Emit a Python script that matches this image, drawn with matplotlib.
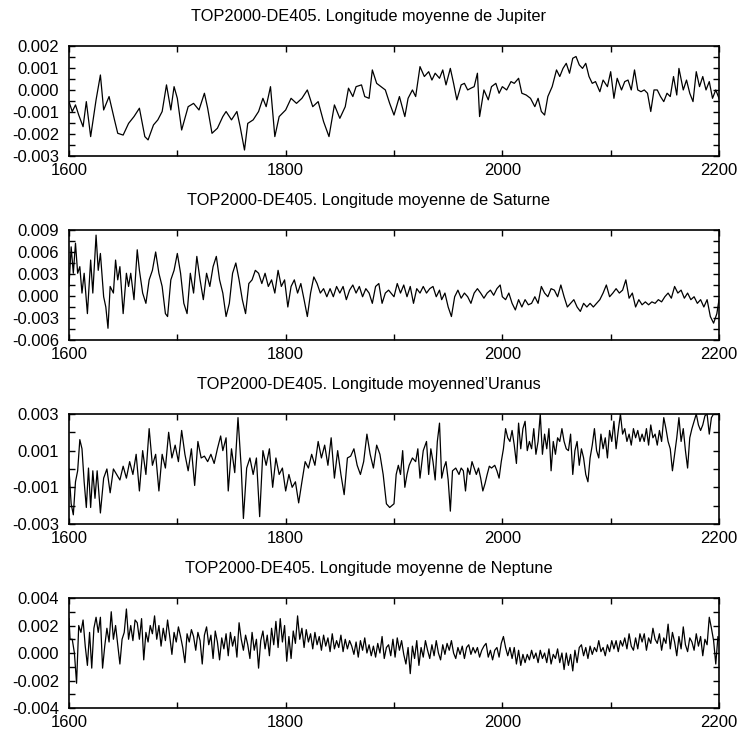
import matplotlib
matplotlib.use('Agg')
import matplotlib.pyplot as plt
from matplotlib.ticker import FixedLocator, MultipleLocator, FormatStrFormatter
import numpy as np

plt.rcParams['font.family'] = ['Liberation Sans', 'DejaVu Sans']
plt.rcParams['axes.unicode_minus'] = False

# values, (year, value in units of 1e-3)
jupiter = [
    (1600, -0.53), (1603, -0.98), (1606, -0.68), (1609, -1.14), (1613, -1.67), (1616, -0.53), (1620, -2.12), (1625, -0.45),
    (1629, 0.68), (1632, -0.91), (1637, -0.30), (1642, -1.36), (1645, -1.97), (1650, -2.05), (1655, -1.52), (1660, -1.21),
    (1665, -0.83), (1670, -2.12), (1673, -2.27), (1678, -1.59), (1682, -1.36), (1686, -0.98), (1690, 0.23), (1694, -0.91),
    (1697, 0.15), (1700, -0.38), (1704, -1.82), (1710, -0.76), (1715, -0.61), (1720, -0.91), (1725, -0.15), (1728, -0.83),
    (1732, -1.97), (1737, -1.74), (1742, -1.21), (1745, -0.98), (1750, -1.36), (1755, -0.98), (1758, -1.67), (1762, -2.73),
    (1765, -1.52), (1770, -1.36), (1775, -0.98), (1779, -0.38), (1782, -0.76), (1786, 0.15), (1790, -2.12), (1794, -1.21),
    (1800, -0.91), (1805, -0.38), (1810, -0.61), (1815, -0.38), (1820, 0.0), (1825, -0.76), (1830, -0.53), (1835, -1.44),
    (1840, -2.12), (1845, -0.68), (1850, -1.29), (1855, -0.76), (1858, 0.08), (1862, -0.30), (1865, 0.15), (1870, 0.23),
    (1873, -0.30), (1877, -0.38), (1880, 0.91), (1884, 0.30), (1888, 0.15), (1892, 0.0), (1896, -0.61), (1900, -1.14),
    (1905, -0.30), (1910, -1.21), (1913, -0.38), (1917, 0.0), (1920, -0.30), (1924, 1.06), (1928, 0.61), (1932, 0.83),
    (1935, 0.45), (1938, 0.76), (1942, 0.53), (1945, 0.91), (1948, 0.23), (1952, 0.98), (1955, 0.30), (1958, -0.45),
    (1962, 0.23), (1965, 0.30), (1968, 0.0), (1971, 0.08), (1974, 0.15), (1977, 0.76), (1979, -1.21), (1983, 0.0),
    (1987, -0.45), (1990, 0.15), (1994, 0.30), (1997, -0.15), (2000, 0.15), (2004, 0.0), (2008, 0.38), (2011, 0.30),
    (2015, 0.53), (2018, -0.15), (2022, -0.23), (2026, -0.38), (2030, -0.76), (2033, -0.38), (2036, -0.98), (2039, -1.14),
    (2042, -0.30), (2046, 0.15), (2050, 0.91), (2053, 0.61), (2056, 0.98), (2059, 1.21), (2062, 0.76), (2065, 1.44),
    (2068, 1.52), (2071, 1.14), (2074, 0.98), (2077, 1.21), (2080, 0.61), (2083, 0.30), (2086, 0.38), (2090, -0.08),
    (2093, 0.45), (2097, 0.15), (2100, 0.83), (2103, -0.38), (2106, 0.53), (2110, 0.0), (2113, 0.38), (2116, 0.45),
    (2119, 0.0), (2122, 0.91), (2125, 0.0), (2128, -0.08), (2131, 0.0), (2134, -0.15), (2137, -0.98), (2140, 0.0),
    (2143, 0.0), (2146, -0.30), (2149, -0.53), (2152, -0.15), (2155, -0.30), (2158, 0.61), (2161, -0.23), (2163, 0.98),
    (2167, 0.0), (2170, 0.45), (2173, -0.15), (2176, -0.53), (2179, 0.83), (2182, 0.15), (2185, 0.61), (2188, 0.0),
    (2191, 0.38), (2194, -0.38), (2197, 0.0), (2200, -0.38),
]

saturne = [
    (1600, 1.3), (1602, 6.7), (1604, 3.1), (1606, 7.2), (1608, 3.1), (1610, 4.0), (1612, 0.4), (1614, 3.1), (1617, -2.4),
    (1620, 4.9), (1622, 0.4), (1625, 8.3), (1627, 3.5), (1629, 5.8), (1632, -0.1), (1634, -1.5), (1636, -4.4), (1638, 1.3),
    (1641, 0.4), (1643, 4.9), (1645, 2.2), (1647, 4.0), (1650, -2.4), (1653, 3.1), (1655, 1.3), (1657, 3.1), (1660, -0.5),
    (1663, 6.3), (1665, 3.5), (1668, 0.4), (1671, -1.0), (1674, 2.2), (1677, 3.5), (1680, 6.0), (1683, 3.1), (1686, 1.3),
    (1689, -2.4), (1691, -2.8), (1694, 2.2), (1697, 3.5), (1700, 5.8), (1703, 3.1), (1706, -1.0), (1709, -2.4), (1712, 3.1),
    (1715, 0.4), (1718, 5.4), (1721, 2.2), (1724, -0.5), (1727, 3.1), (1730, 1.3), (1733, 4.0), (1736, 5.4), (1739, 2.2),
    (1742, 0.4), (1745, -2.8), (1748, -1.0), (1751, 3.1), (1754, 4.5), (1757, 2.2), (1760, -0.5), (1763, -2.4), (1766, 1.7),
    (1769, 2.2), (1772, 3.5), (1775, 3.1), (1778, 1.7), (1781, 3.1), (1784, 1.3), (1787, 2.2), (1790, 0.4), (1793, 3.5),
    (1796, 1.3), (1799, 2.2), (1802, -1.5), (1805, 1.3), (1808, 2.2), (1811, 0.4), (1814, 1.7), (1817, -0.5), (1820, -2.8),
    (1823, 0.4), (1826, 2.6), (1829, 1.7), (1832, 0.4), (1835, 1.0), (1838, -0.1), (1841, 1.0), (1844, -0.1), (1847, 1.3),
    (1850, 0.4), (1853, 1.3), (1856, -0.5), (1859, 0.8), (1862, 1.5), (1865, 0.4), (1868, 1.3), (1871, -0.1), (1874, 1.0),
    (1877, 0.4), (1880, -1.0), (1883, 1.3), (1886, 1.7), (1889, -1.0), (1892, 0.4), (1895, 0.8), (1900, -0.1), (1903, 1.7),
    (1906, 0.4), (1909, 1.5), (1912, -0.1), (1915, 1.3), (1918, -1.0), (1921, 1.0), (1924, 0.4), (1927, 1.3), (1930, 0.4),
    (1933, 1.0), (1936, 1.3), (1939, -0.1), (1942, 0.8), (1944, -0.5), (1947, 0.4), (1950, -1.5), (1953, -2.8), (1956, -0.1),
    (1959, 0.8), (1962, -0.3), (1965, 0.4), (1968, -0.1), (1971, -1.0), (1974, 0.4), (1977, 1.0), (1980, 0.4), (1983, -0.3),
    (1986, 0.4), (1989, 0.8), (1992, 0.1), (1995, 1.0), (1998, 1.5), (2000, -0.1), (2003, -0.5), (2006, 0.4), (2009, -1.0),
    (2012, -1.9), (2015, -0.5), (2018, -1.5), (2021, -0.5), (2024, -1.2), (2027, -1.0), (2030, -0.1), (2033, -1.0),
    (2036, 1.3), (2039, 0.4), (2042, -0.1), (2045, 1.0), (2048, 0.8), (2051, -0.1), (2054, 1.5), (2057, -0.1), (2060, -1.5),
    (2063, -1.0), (2066, -0.5), (2069, -1.5), (2072, -2.1), (2075, -1.0), (2078, -1.5), (2081, -1.0), (2084, -1.5),
    (2087, -1.0), (2090, -0.5), (2093, 0.4), (2096, 1.5), (2099, -0.1), (2102, 0.4), (2105, 1.0), (2108, 0.4), (2111, 0.8),
    (2114, 2.2), (2117, -0.3), (2120, 0.4), (2123, -1.5), (2126, -0.5), (2129, -1.2), (2132, -0.8), (2135, -1.2),
    (2138, -0.8), (2141, -1.0), (2144, -0.5), (2147, -0.8), (2150, -0.1), (2153, 0.4), (2156, -0.3), (2159, 1.3),
    (2162, 0.4), (2165, 0.8), (2168, -0.3), (2171, 0.4), (2174, -0.5), (2177, -0.1), (2180, -1.0), (2183, -0.5),
    (2186, -1.5), (2189, -0.5), (2192, -2.8), (2195, -3.7), (2198, -2.4), (2200, -0.5),
]

uranus = [
    (1600, 0.0), (1602, -1.9), (1604, -2.5), (1606, -0.7), (1608, -0.1), (1610, 1.6), (1612, 1.1), (1614, -0.7),
    (1616, -2.1), (1618, 0.05), (1620, -2.1), (1622, -0.1), (1624, -1.6), (1626, -0.1), (1629, -2.4), (1632, -0.5),
    (1635, 0.0), (1638, -1.3), (1641, 0.0), (1644, -0.3), (1647, -0.6), (1650, 0.15), (1653, -0.5), (1656, 0.4),
    (1659, -0.3), (1662, 0.8), (1665, -1.2), (1668, 1.0), (1671, -0.3), (1674, 2.2), (1677, 0.2), (1680, 0.8),
    (1683, -1.2), (1686, 0.8), (1689, 0.05), (1692, 2.0), (1695, 0.6), (1698, 1.3), (1701, 0.4), (1704, 2.1),
    (1707, 0.8), (1710, -0.1), (1713, 1.1), (1716, -0.9), (1719, 1.5), (1722, 0.6), (1725, 0.7), (1728, 0.4),
    (1731, 0.8), (1734, 0.3), (1737, 1.1), (1740, 1.8), (1742, 1.0), (1745, 1.7), (1747, -1.2), (1750, 1.1),
    (1753, -0.2), (1756, 2.8), (1759, 0.05), (1761, -2.7), (1764, 0.05), (1767, 0.6), (1770, -0.3), (1773, 0.6),
    (1776, -2.6), (1779, 1.0), (1782, 0.2), (1785, 1.1), (1788, -1.0), (1791, 0.6), (1794, -0.3), (1797, 0.05),
    (1800, -1.2), (1803, -0.3), (1806, -1.0), (1809, -0.7), (1812, -1.85), (1815, -0.7), (1818, 0.4), (1821, 0.05),
    (1824, 0.8), (1827, 0.2), (1830, 1.5), (1833, 0.6), (1836, 1.3), (1839, 0.2), (1842, 1.7), (1845, -0.5),
    (1848, 1.0), (1851, -0.3), (1854, -1.4), (1857, 0.6), (1860, 0.7), (1863, 1.1), (1866, 0.2), (1869, -0.3),
    (1872, 0.4), (1875, 1.9), (1878, 0.8), (1881, 0.05), (1884, 1.3), (1887, 0.8), (1890, -0.3), (1893, -1.9),
    (1896, -2.1), (1900, -1.9), (1902, -0.3), (1904, 0.2), (1906, -0.3), (1908, 1.0), (1910, -1.0), (1912, -0.3),
    (1914, 0.2), (1917, 0.6), (1920, 0.4), (1922, 1.1), (1924, -0.5), (1927, 1.0), (1930, 1.5), (1932, -0.3),
    (1934, 1.1), (1936, 0.4), (1938, -0.6), (1940, 1.5), (1942, 2.5), (1944, -0.5), (1946, 0.05), (1948, 0.4),
    (1950, -0.6), (1952, -2.3), (1954, -0.1), (1957, 0.05), (1960, -0.3), (1962, 0.05), (1964, -0.1), (1966, -1.2),
    (1968, 0.05), (1970, -0.3), (1972, 0.4), (1974, 0.05), (1976, -0.3), (1978, 0.05), (1980, -0.5), (1982, -1.2),
    (1984, -0.8), (1986, -0.3), (1988, 0.15), (1990, 0.05), (1993, 0.2), (1995, -0.1), (1997, -0.5), (1999, 0.4),
    (2001, 1.1), (2003, 2.2), (2005, 1.7), (2007, 1.5), (2009, 2.1), (2011, 1.3), (2013, 0.3), (2015, 2.5),
    (2017, 1.1), (2019, 2.2), (2021, 2.6), (2023, 1.0), (2025, 1.5), (2027, 1.1), (2029, 2.2), (2031, 0.8),
    (2033, 1.5), (2035, 3.0), (2037, 0.8), (2039, 1.9), (2041, 1.1), (2043, 2.2), (2045, -0.1), (2047, 1.5),
    (2049, 0.8), (2051, 1.7), (2053, 1.5), (2055, 2.2), (2057, 1.5), (2059, 1.1), (2061, 1.0), (2063, 1.9),
    (2065, -0.3), (2067, 1.0), (2069, 1.5), (2071, 0.2), (2073, 1.1), (2075, 0.6), (2077, -0.3), (2079, -0.7),
    (2081, 0.6), (2083, 1.3), (2085, 2.2), (2087, 1.0), (2089, 0.6), (2091, 1.9), (2093, 1.1), (2095, 1.7),
    (2097, 0.6), (2099, 2.1), (2101, 1.5), (2103, 2.6), (2105, 1.1), (2107, 2.1), (2109, 3.0), (2111, 1.9),
    (2113, 2.2), (2115, 1.5), (2117, 1.9), (2119, 1.3), (2121, 2.2), (2123, 1.7), (2125, 2.1), (2127, 1.5),
    (2129, 1.9), (2131, 1.5), (2133, 2.2), (2135, 1.3), (2137, 2.4), (2139, 1.7), (2141, 1.9), (2143, 1.3),
    (2145, 2.1), (2147, 1.5), (2149, 2.8), (2151, 2.2), (2153, 1.5), (2155, 1.1), (2157, -0.1), (2159, 0.8),
    (2161, 1.7), (2163, 2.8), (2165, 1.5), (2167, 2.2), (2169, 1.0), (2171, 0.05), (2173, 1.7), (2175, 2.2),
    (2177, 2.6), (2179, 3.0), (2181, 2.4), (2183, 2.1), (2185, 2.4), (2187, 2.9), (2189, 3.0), (2191, 1.9),
    (2193, 2.8), (2195, 3.0), (2200, 3.0),
]

neptune = [
    (1600, 2.5), (1601, 1.0), (1603, 1.0), (1605, 0.0), (1607, -2.2), (1609, 2.0), (1611, 1.5), (1613, 2.4),
    (1615, 0.5), (1617, -0.9), (1619, 1.5), (1621, -1.1), (1623, 1.8), (1625, 2.6), (1627, 1.5), (1629, 2.6),
    (1631, -1.1), (1633, 0.5), (1635, 1.8), (1637, 0.8), (1639, 3.0), (1641, 1.0), (1643, 2.0), (1645, 0.6),
    (1647, -0.8), (1649, 1.0), (1651, 1.5), (1653, 3.2), (1655, 1.0), (1657, 2.0), (1659, 0.9), (1661, 2.4),
    (1663, 2.2), (1665, 1.0), (1667, 2.5), (1669, -0.5), (1671, 1.5), (1673, 0.8), (1675, 2.0), (1677, 1.4),
    (1679, 2.7), (1681, 1.0), (1683, 2.0), (1685, 0.5), (1687, 1.8), (1689, 0.9), (1691, 2.4), (1693, 1.2),
    (1695, -0.1), (1697, 1.5), (1699, 0.8), (1701, 1.9), (1703, 1.2), (1705, 0.4), (1707, -0.7), (1709, 1.4),
    (1711, 0.8), (1713, 1.7), (1715, 1.2), (1717, 0.2), (1719, 1.5), (1721, 0.9), (1723, -0.8), (1725, 1.3),
    (1727, 1.9), (1729, 0.6), (1731, 1.3), (1733, -0.4), (1735, 1.6), (1737, 0.8), (1739, -0.5), (1741, 1.1),
    (1743, 0.3), (1745, 1.4), (1747, -0.2), (1749, 1.5), (1751, 0.5), (1753, 1.2), (1755, -0.3), (1757, 2.2),
    (1759, 1.0), (1761, 0.2), (1763, 1.3), (1765, 0.6), (1767, -0.4), (1769, 1.5), (1771, 0.2), (1773, 1.0),
    (1775, -1.1), (1777, 0.9), (1779, 1.6), (1781, 0.3), (1783, 1.3), (1785, -0.2), (1787, 1.8), (1789, 0.6),
    (1791, 2.3), (1793, 0.4), (1795, 2.5), (1797, 0.8), (1799, 2.0), (1801, -0.6), (1803, 1.2), (1805, -0.4),
    (1807, 1.6), (1809, 0.7), (1811, 2.7), (1813, 1.0), (1815, 1.8), (1817, 0.4), (1819, 1.7), (1821, 0.8),
    (1823, 1.4), (1825, 0.3), (1827, 1.5), (1829, 0.6), (1831, 1.2), (1833, 0.2), (1835, 1.3), (1837, 0.5),
    (1839, 1.1), (1841, 0.1), (1843, 1.4), (1845, 0.3), (1847, 0.9), (1849, 0.4), (1851, 1.3), (1853, 0.1),
    (1855, 1.0), (1857, 0.3), (1859, 0.9), (1861, 0.5), (1863, -0.1), (1865, 0.8), (1867, -0.3), (1869, 0.9),
    (1871, 0.2), (1873, 1.1), (1875, 0.0), (1877, 0.6), (1879, -0.2), (1881, 0.5), (1883, -0.3), (1885, 0.7),
    (1887, 0.0), (1889, 1.2), (1891, -0.4), (1893, 0.4), (1895, 0.6), (1897, -0.2), (1899, 1.0), (1901, -0.3),
    (1903, 1.1), (1905, 0.2), (1907, 0.9), (1909, -0.1), (1911, -0.8), (1913, 0.4), (1915, -1.5), (1917, 0.5),
    (1919, -0.4), (1921, 0.9), (1923, -0.9), (1925, 0.4), (1927, -0.3), (1929, 0.9), (1931, 0.2), (1933, -0.4),
    (1935, 0.6), (1937, -0.2), (1939, 0.9), (1941, 0.0), (1943, -0.5), (1945, 0.6), (1947, -0.1), (1949, 0.7),
    (1951, 0.2), (1953, 0.9), (1955, 0.0), (1957, -0.4), (1959, 0.4), (1961, -0.1), (1963, 0.5), (1965, -0.4),
    (1967, 0.4), (1969, 0.6), (1971, -0.1), (1973, 0.4), (1975, 0.0), (1977, 0.4), (1979, -0.3), (1981, 0.2),
    (1983, 0.5), (1985, 0.7), (1987, -0.3), (1989, 0.2), (1991, -0.5), (1993, 0.2), (1995, 0.4), (1997, -0.3),
    (1999, 0.7), (2001, 1.2), (2003, 0.4), (2005, -0.2), (2007, 0.4), (2009, -0.4), (2011, 0.4), (2013, -0.8),
    (2015, 0.2), (2017, -0.9), (2019, -0.1), (2021, -0.7), (2023, -0.1), (2025, -0.5), (2027, 0.2), (2029, -0.4),
    (2031, 0.0), (2033, -0.7), (2035, 0.2), (2037, -0.4), (2039, 0.0), (2041, -0.7), (2043, 0.3), (2045, -0.8),
    (2047, -0.1), (2049, -0.4), (2051, 0.3), (2053, -0.7), (2055, 0.0), (2057, -1.2), (2059, 0.0), (2061, -0.9),
    (2063, -0.1), (2065, -1.3), (2067, 0.2), (2069, -0.7), (2071, 0.4), (2073, 0.6), (2075, -0.2), (2077, 0.4),
    (2079, -0.4), (2081, 0.5), (2083, -0.1), (2085, 0.4), (2087, 0.1), (2089, 0.9), (2091, 0.1), (2093, 0.4),
    (2095, -0.2), (2097, 0.6), (2099, 0.1), (2101, 0.9), (2103, 0.3), (2105, 0.9), (2107, 0.1), (2109, 0.9),
    (2111, 0.5), (2113, 1.1), (2115, 0.3), (2117, 1.4), (2119, 0.5), (2121, 0.2), (2123, 1.1), (2125, 0.3),
    (2127, 1.4), (2129, 0.8), (2131, 1.4), (2133, 0.2), (2135, 1.1), (2137, 0.7), (2139, 1.8), (2141, 1.0),
    (2143, 0.7), (2145, 1.4), (2147, 0.2), (2149, 1.1), (2151, 0.7), (2153, 2.1), (2155, 0.3), (2157, 1.5),
    (2159, 0.8), (2161, -0.2), (2163, 1.2), (2165, 0.3), (2167, 1.9), (2169, 0.6), (2171, 0.1), (2173, 1.1),
    (2175, 0.8), (2177, 0.2), (2179, 1.4), (2181, 0.5), (2183, 1.2), (2185, -0.2), (2187, 1.0), (2189, 0.6),
    (2191, 2.6), (2193, 1.8), (2195, 0.9), (2197, -0.8), (2199, 1.2), (2200, 0.9),
]

titles = [
    "TOP2000-DE405. Longitude moyenne de Jupiter",
    "TOP2000-DE405. Longitude moyenne de Saturne",
    "TOP2000-DE405. Longitude moyenned\u2019Uranus",
    "TOP2000-DE405. Longitude moyenne de Neptune",
]
series = [jupiter, saturne, uranus, neptune]
ylims = [(-0.003, 0.002), (-0.006, 0.009), (-0.003, 0.003), (-0.004, 0.004)]
yticks = [
    [-0.003, -0.002, -0.001, 0.0, 0.001, 0.002],
    [-0.006, -0.003, 0.0, 0.003, 0.006, 0.009],
    [-0.003, -0.001, 0.001, 0.003],
    [-0.004, -0.002, 0.0, 0.002, 0.004],
]
yminor = [0.0005, 0.0015, 0.001, 0.001]
xticks = [1600, 1800, 2000, 2200]

fig = plt.figure(figsize=(7.37, 7.35), dpi=100)

bottoms = [0.7878, 0.5374, 0.2871, 0.0367]
title_y = [16, 201, 385, 569]

for i in range(4):
    ax = fig.add_axes([0.0936, bottoms[i], 0.882, 0.1497])
    yrs = np.array([p[0] for p in series[i]])
    vals = np.array([p[1] for p in series[i]]) * 1e-3
    ax.plot(yrs, vals, color='black', lw=0.9)
    ax.set_xlim(1600, 2200)
    ax.set_ylim(*ylims[i])
    ax.xaxis.set_major_locator(FixedLocator(xticks))
    ax.xaxis.set_minor_locator(MultipleLocator(100))
    ax.yaxis.set_major_locator(FixedLocator(yticks[i]))
    ax.yaxis.set_minor_locator(MultipleLocator(yminor[i]))
    ax.yaxis.set_major_formatter(FormatStrFormatter('%.3f'))
    ax.tick_params(which='both', direction='in', top=True, right=True,
                   length=4, width=1, labelsize=12)
    ax.tick_params(axis='x', pad=5)
    ax.tick_params(axis='y', pad=7)
    for s in ax.spines.values():
        s.set_linewidth(1.2)
    fig.text(0.5, 1 - title_y[i] / 735, titles[i], ha='center', va='center', fontsize=11.8)

fig.savefig('out.png', dpi=100)
